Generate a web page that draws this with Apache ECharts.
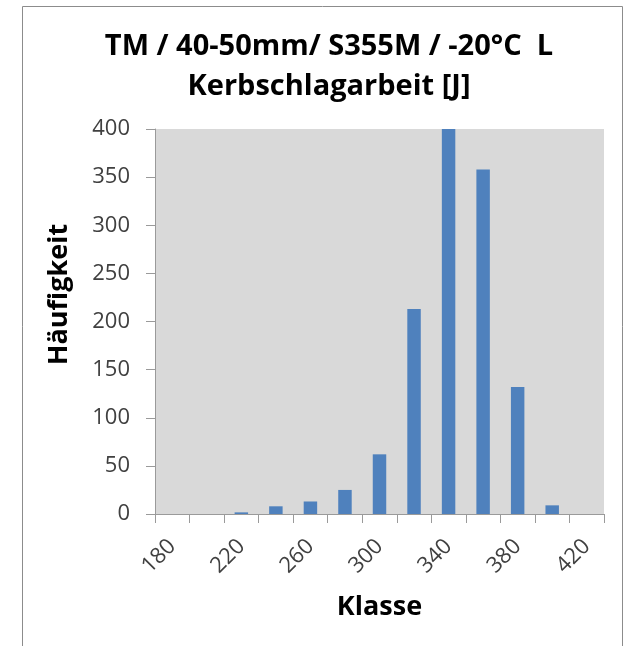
<!DOCTYPE html>
<html>
<head>
<meta charset="utf-8">
<script src="https://cdn.jsdelivr.net/npm/echarts@6/dist/echarts.min.js"></script>
<style>
  html, body { margin: 0; padding: 0; background: #fff; }
  #chart { width: 626px; height: 646px; }
</style>
</head>
<body>
<div id="chart"></div>
<script>
// Klassen (J) und Häufigkeiten
const klassen = ['180', '200', '220', '240', '260', '280', '300', '320', '340', '360', '380', '400', '420']
const haeufigkeit = [0, 0, 1.7, 8, 13, 25, 62, 213, 400, 358, 132, 9, 0]
const titleLines = ['TM / 40-50mm/ S355M / -20°C  L', 'Kerbschlagarbeit [J]']

const font = '"Open Sans", "Noto Sans", sans-serif'
const chart = echarts.init(document.getElementById('chart'))

chart.setOption({
  animation: false,
  textStyle: { fontFamily: font },
  title: {
    text: titleLines.join('\n'),
    left: 324,
    textAlign: 'center',
    top: 22,
    textStyle: {
      fontFamily: font,
      fontSize: 29,
      fontWeight: 'bold',
      color: '#000',
      lineHeight: 40
    }
  },
  graphic: [
    {
      type: 'rect',
      shape: { x: 22.5, y: 6.5, width: 600, height: 700 },
      style: { fill: 'none', stroke: '#8c8c8c', lineWidth: 1 },
      silent: true
    }
  ],
  grid: {
    left: 155,
    top: 129,
    right: 22,
    bottom: 132,
    show: true,
    backgroundColor: '#d9d9d9',
    borderWidth: 0
  },
  xAxis: {
    type: 'category',
    data: klassen,
    name: 'Klasse',
    nameLocation: 'middle',
    nameGap: 80,
    nameTextStyle: { fontFamily: font, fontSize: 27, fontWeight: 'bold', color: '#000' },
    axisLine: { lineStyle: { color: '#9a9a9a', width: 1 } },
    axisTick: { show: true, interval: 0, length: 9, lineStyle: { color: '#9a9a9a' } },
    axisLabel: {
      interval: 1,
      rotate: 45,
      fontSize: 22,
      color: '#404040',
      margin: 29
    },
    splitLine: { show: false }
  },
  yAxis: {
    type: 'value',
    min: 0,
    max: 400,
    interval: 50,
    name: 'Häufigkeit',
    nameLocation: 'middle',
    nameGap: 82,
    nameTextStyle: {
      fontFamily: font,
      fontSize: 27,
      fontWeight: 'bold',
      color: '#000',
      padding: [0, 0, 0, 54]
    },
    axisLine: { show: true, lineStyle: { color: '#9a9a9a', width: 1 } },
    axisTick: { show: true, length: 9, lineStyle: { color: '#9a9a9a' } },
    axisLabel: { fontSize: 22, color: '#404040', margin: 25 },
    splitLine: { show: false }
  },
  series: [
    {
      type: 'bar',
      data: haeufigkeit,
      barWidth: '39%',
      itemStyle: { color: '#4f81bd' }
    }
  ]
})
</script>
</body>
</html>
